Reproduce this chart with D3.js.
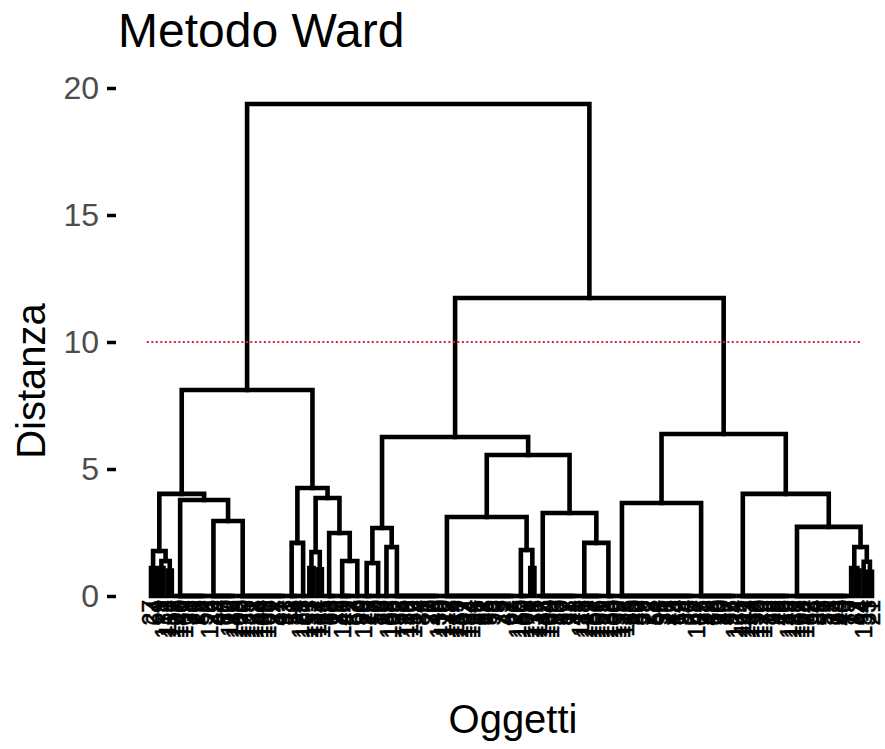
<!DOCTYPE html>
<html>
<head>
<meta charset="utf-8">
<script src="https://cdn.jsdelivr.net/npm/d3@7"></script>
<style>
  body { margin: 0; background: #fff; }
  text { font-family: "Liberation Sans", Arial, Helvetica, sans-serif; }
</style>
</head>
<body>
<svg id="chart" width="885" height="749"></svg>
<script>
// ---- Dendrogram data (Ward linkage) ----
const leafCount = 174;

// object ids in dendrogram leaf order
const leafLabels = [
  27, 64, 9, 131, 118, 152, 107, 140, 163, 38,
  71, 15, 88, 52, 126, 3, 44, 97, 60, 112,
  149, 103, 170, 135, 121, 158, 144, 109, 166, 22,
  81, 47, 93, 11, 56, 74, 128, 101, 155, 137,
  114, 161, 35, 68, 19, 85, 146, 41, 7, 63,
  90, 123, 29, 77, 50, 13, 99, 168, 105, 32,
  58, 139, 116, 153, 24, 86, 1, 70, 45, 130,
  110, 172, 142, 119, 157, 102, 134, 164, 36, 61,
  18, 95, 53, 79, 5, 42, 67, 26, 125, 150,
  108, 171, 136, 117, 145, 104, 160, 83, 30, 57,
  12, 91, 48, 113, 141, 129, 167, 106, 151, 122,
  138, 100, 159, 132, 115, 65, 20, 87, 39, 72,
  8, 54, 96, 31, 76, 43, 14, 59, 84, 2,
  69, 147, 25, 92, 49, 66, 10, 80, 37, 55,
  124, 165, 111, 143, 133, 156, 120, 173, 73, 28,
  98, 46, 16, 148, 127, 162, 169, 174, 62, 34,
  89, 6, 51, 78, 23, 94, 40, 75, 17, 82,
  4, 154, 33, 21
];

// runs of identical objects (joined at distance 0): [first, last] leaf position
const bundles = [
  [6, 13], [14, 20], [21, 32], [33, 35], [36, 37],
  [42, 44], [45, 48], [49, 50], [51, 53], [54, 55],
  [56, 57], [58, 69], [70, 87], [88, 90], [93, 102],
  [103, 108], [109, 111], [112, 130], [131, 140], [141, 153],
  [154, 167]
];

// merge table: [left, right, height]; "L#" leaf, "B#" bundle, "M#" earlier merge
const merges = [
  ["L0", "L1", 1.10],
  ["L2", "L3", 1.10],
  ["L4", "L5", 1.00],
  ["M1", "M2", 1.38],
  ["M0", "M3", 1.77],
  ["B1", "B2", 2.95],
  ["B0", "M5", 3.78],
  ["M4", "M6", 4.02],
  ["B3", "B4", 2.09],
  ["L38", "L39", 1.10],
  ["L40", "L41", 1.05],
  ["M9", "M10", 1.73],
  ["B6", "B7", 1.38],
  ["B5", "M12", 2.48],
  ["M11", "M13", 3.86],
  ["M8", "M14", 4.25],
  ["M7", "M15", 8.11],
  ["B8", "B9", 1.30],
  ["B10", "B11", 1.93],
  ["M17", "M18", 2.68],
  ["L91", "L92", 1.10],
  ["B13", "M20", 1.81],
  ["B12", "M21", 3.11],
  ["B15", "B16", 2.09],
  ["B14", "M23", 3.27],
  ["M22", "M24", 5.55],
  ["M19", "M25", 6.26],
  ["B17", "B18", 3.66],
  ["L169", "L170", 1.00],
  ["L168", "M28", 1.10],
  ["L172", "L173", 0.95],
  ["L171", "M30", 1.35],
  ["M29", "M31", 1.93],
  ["B20", "M32", 2.72],
  ["B19", "M33", 4.02],
  ["M27", "M34", 6.38],
  ["M26", "M35", 11.73],
  ["M16", "M36", 19.37]
];

const yTicks = [0, 5, 10, 15, 20];
const cutHeight = 10;
const cutSpan = [-1, 170.5];   // extent of the cut line, in leaf positions
const titleText = "Metodo Ward";
const xTitle = "Oggetti";
const yTitle = "Distanza";

// ---- Scales ----
const svg = d3.select("#chart");
const x = d3.scaleLinear().domain([0, leafCount - 1]).range([151, 872]);
const y = d3.scaleLinear().domain([0, 20]).range([596, 88]);

// ---- Layout: leaf positions, bundle legs, merge legs ----
const nodes = new Map();
for (let i = 0; i < leafCount; i++) nodes.set("L" + i, { pos: i, h: 0 });

const segs = [];
bundles.forEach(([a, b], k) => {
  // identical objects merge one after another at height 0
  let leg = b;
  for (let j = b - 1; j >= a; j--) {
    segs.push([[j, 0], [leg, 0]]);
    leg = (j + leg) / 2;
  }
  nodes.set("B" + k, { pos: leg, h: 0 });
});
merges.forEach(([ca, cb, h], k) => {
  const A = nodes.get(ca), B = nodes.get(cb);
  segs.push([[A.pos, A.h], [A.pos, h], [B.pos, h], [B.pos, B.h]]);
  nodes.set("M" + k, { pos: (A.pos + B.pos) / 2, h: h });
});

const line = d3.line().x(d => x(d[0])).y(d => y(d[1]));

// ---- Dendrogram branches ----
svg.append("g")
  .selectAll("path")
  .data(segs)
  .join("path")
  .attr("d", line)
  .attr("fill", "none")
  .attr("stroke", "#000")
  .attr("stroke-width", 4.6)
  .attr("stroke-linecap", "square")
  .attr("stroke-linejoin", "miter");

// ---- Leaf labels ----
svg.append("g")
  .selectAll("text")
  .data(leafLabels)
  .join("text")
  .attr("transform", (d, i) => `translate(${x(i)},600) rotate(-90)`)
  .attr("text-anchor", "end")
  .attr("dy", "0.36em")
  .attr("font-size", 23)
  .attr("fill", "#000")
  .attr("stroke", "#000")
  .attr("stroke-width", 0.5)
  .text(d => d);

// ---- Cut line ----
svg.append("line")
  .attr("x1", x(cutSpan[0]))
  .attr("x2", x(cutSpan[1]))
  .attr("y1", y(cutHeight))
  .attr("y2", y(cutHeight))
  .attr("stroke", "#d7263d")
  .attr("stroke-width", 2)
  .attr("stroke-dasharray", "2,2.5");

// ---- Y axis ----
const yAxis = svg.append("g")
  .attr("transform", "translate(116,0)")
  .call(d3.axisLeft(y).tickValues(yTicks).tickSize(9).tickPadding(8));
yAxis.select(".domain").remove();
yAxis.selectAll(".tick line").attr("stroke", "#000").attr("stroke-width", 3.5);
yAxis.selectAll(".tick text")
  .attr("font-family", "Liberation Sans, Arial, sans-serif")
  .attr("font-size", 32)
  .attr("fill", "#4d4d4d");

// ---- Titles ----
svg.append("text")
  .attr("x", 118).attr("y", 47)
  .attr("font-size", 48)
  .attr("fill", "#000")
  .text(titleText);

svg.append("text")
  .attr("x", 513).attr("y", 733)
  .attr("text-anchor", "middle")
  .attr("font-size", 40)
  .attr("fill", "#000")
  .text(xTitle);

svg.append("text")
  .attr("transform", "translate(45,381) rotate(-90)")
  .attr("text-anchor", "middle")
  .attr("font-size", 40)
  .attr("fill", "#000")
  .text(yTitle);
</script>
</body>
</html>
